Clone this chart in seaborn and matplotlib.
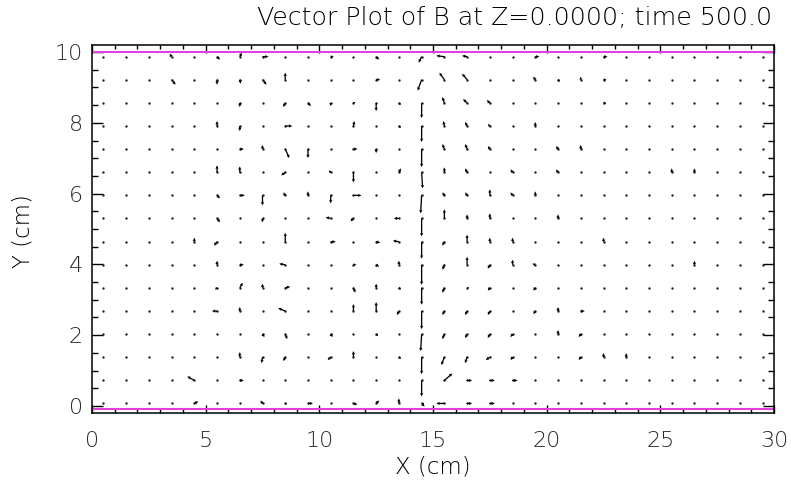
import numpy as np
import pandas as pd
import matplotlib
matplotlib.use("Agg")
import matplotlib.pyplot as plt
import seaborn as sns
from matplotlib.ticker import MultipleLocator

# ---------------- data ----------------
title = "Vector Plot of B at Z=0.0000; time 500.0"
x_label = "X (cm)"
y_label = "Y (cm)"
x_ticks = [0, 5, 10, 15, 20, 25, 30]
y_ticks = [0, 2, 4, 6, 8, 10]

# grid of sample points (cm)
grid_x = [0.5, 1.5, 2.5, 3.5, 4.5, 5.5, 6.5, 7.5, 8.5, 9.5,
          10.5, 11.5, 12.5, 13.5, 14.5, 15.5, 16.5, 17.5, 18.5, 19.5,
          20.5, 21.5, 22.5, 23.5, 24.5, 25.5, 26.5, 27.5, 28.5, 29.5]
grid_y = [9.87, 9.22, 8.56, 7.91, 7.26, 6.60, 5.95, 5.30,
          4.64, 3.99, 3.34, 2.68, 2.03, 1.38, 0.72, 0.07]   # top row first

# non-zero B vectors, one inner list per grid row (top to bottom):
# column index, Bx, By (arbitrary units)
vec_col = [
    [3, 5, 6, 7, 10, 12, 14, 15, 16, 19, 22],
    [3, 5, 6, 7, 8, 12, 14, 15, 16, 19, 20, 21, 22],
    [6, 8, 9, 10, 11, 12, 13, 14, 15, 16, 17, 22],
    [5, 6, 8, 11, 13, 14, 15, 16, 17, 19],
    [6, 7, 8, 9, 11, 12, 14, 15, 16, 17, 20, 21],
    [5, 6, 8, 10, 11, 13, 14, 15, 16, 18, 20, 25, 26],
    [5, 6, 7, 8, 9, 10, 11, 14, 15, 16, 17, 18, 19],
    [5, 7, 10, 11, 13, 14, 15, 16, 17, 20],
    [4, 5, 8, 10, 12, 13, 14, 15, 16, 17, 18, 22],
    [5, 6, 8, 11, 12, 13, 14, 15, 16, 17, 18, 19, 26],
    [5, 6, 7, 8, 11, 12, 13, 14, 15, 16, 17, 19],
    [5, 6, 8, 11, 12, 13, 14, 15, 16, 17, 19, 20, 21],
    [7, 8, 10, 12, 14, 15, 16, 17, 18, 20, 21],
    [6, 7, 8, 10, 11, 13, 14, 15, 16, 17, 18, 21, 22, 23],
    [4, 6, 14, 15, 16, 17, 18],
    [4, 7, 8, 9, 11, 12, 13, 14, 15, 16, 17],
]
vec_bx = [
    [-2, 3, 2, 6, 3, 3, -3, -8, -5, 4, 4],
    [4, 0, 1, 4, 0, 4, -4, -5, -5, -2, 2, 0, 3],
    [0, -2, 3, 0, 2, 0, 2, 0, -2, -4, -3, 3],
    [0, 0, 7, 1, 2, 0, -1, -2, -2, 0],
    [4, 0, 4, 0, 4, 0, 0, -2, -2, -2, -2, 0],
    [0, 0, -4, -2, 0, 2, 1, 0, -2, -2, -2, 0, 0],
    [3, 5, 0, -2, 0, 0, 8, -1, -2, -2, 0, -2, 0],
    [3, 0, -5, -3, -5, 0, 0, 0, 0, 0],
    [0, -3, 0, 5, 4, -6, 0, -2, 0, 0, 0, 0],
    [0, 4, -6, 3, 3, 0, 0, -2, 0, -2, 0, -3, 0],
    [-2, 3, 0, 5, 2, 0, 2, 0, -2, 2, -2, -2],
    [-5, 0, -7, 0, 0, -2, 0, -2, -2, -2, -2, 0, 4],
    [2, 2, 2, 2, -1, -2, -2, -2, -2, 0, -2],
    [0, -1, -2, -3, 0, 2, 0, -3, -2, -4, -2, -2, 0, 0],
    [-7, 4, 0, 8, 5, 5, 5],
    [4, -2, 2, 5, 4, 3, 0, 3, -8, 5, 5],
]
vec_by = [
    [3, -3, 4, 0, 0, -3, -6, 1, 1, 0, 0],
    [-5, -5, -4, -5, 7, 0, -11, 7, 6, 3, -2, 3, 0],
    [-4, -4, -3, -3, 1, -8, -2, -15, 6, 4, 3, 0],
    [5, -5, 0, 5, -2, -16, 5, 4, 2, 4],
    [0, 4, -9, -9, 0, -4, -18, 5, 5, 3, 3, 4],
    [7, 6, -3, 2, -10, 4, -16, 5, 4, 3, 3, 4, 4],
    [-3, 0, -10, 3, 4, -8, 0, -18, 3, 3, 6, 3, 4],
    [-4, -4, 1, -3, 0, -18, 9, 4, 5, 4],
    [4, -4, 9, 0, -1, 1, -17, -4, 7, 4, 4, 4],
    [4, 0, 1, 0, -2, 4, -20, -5, 8, -4, 5, 1, 4],
    [-2, 5, 4, 1, -5, 4, -2, -17, -5, 0, -3, -3],
    [0, 4, 3, 7, 9, -4, -18, -4, -4, -4, -3, 4, 0],
    [-3, -5, -3, -2, -17, -5, -4, -4, -3, 4, -3],
    [5, -6, -4, -3, 6, -2, -17, -8, -6, -3, -3, -3, 4, 4],
    [4, 0, -16, 7, 0, 0, 0],
    [2, 3, -1, 0, -1, 3, 5, -3, 0, 0, 0],
]
boundary_y = [10.0, -0.09]   # domain boundary lines

# ---------------- build tables ----------------
gx, gy = np.meshgrid(grid_x, grid_y)
dots = pd.DataFrame({"x": gx.ravel(), "y": gy.ravel()})

recs = []
for j, (cols, bxs, bys) in enumerate(zip(vec_col, vec_bx, vec_by)):
    for c, u, v in zip(cols, bxs, bys):
        recs.append((grid_x[c], grid_y[j], u, v))
vec = pd.DataFrame(recs, columns=["x", "y", "bx", "by"])

# ---------------- figure ----------------
sns.set_style("white")
plt.rcParams["font.family"] = ["DejaVu Sans"]
plt.rcParams["font.weight"] = "light"

W, H = 791, 480
fig = plt.figure(figsize=(W / 100, H / 100), dpi=100)
ax = fig.add_axes([92 / W, 1 - 413 / H, (774 - 92) / W, (413 - 45) / H])

for yb in boundary_y:
    ax.axhline(yb, color="#e23ee2", lw=1.5, zorder=1)

sns.scatterplot(data=dots, x="x", y="y", ax=ax, s=3, color="#222222",
                linewidth=0, marker="o", legend=False, zorder=3)

ax.quiver(vec["x"], vec["y"], vec["bx"], vec["by"],
          angles="uv", units="dots", scale_units="dots", scale=1.0,
          width=1.3, headwidth=2.6, headlength=2.6, headaxislength=2.3,
          pivot="tail", color="black", zorder=4)

ax.set_xlim(0, 30)
ax.set_ylim(-0.2, 10.2)
ax.set_xticks(x_ticks)
ax.set_yticks(y_ticks)
ax.xaxis.set_minor_locator(MultipleLocator(1))
ax.yaxis.set_minor_locator(MultipleLocator(0.5))
ax.set_xlabel("")
ax.set_ylabel("")

for s in ax.spines.values():
    s.set_color("black")
    s.set_linewidth(1.1)

ax.tick_params(which="both", direction="in", top=True, right=True,
               bottom=True, left=True, color="black", width=1.0)
ax.tick_params(axis="x", which="major", length=6, pad=13, labelsize=16)
ax.tick_params(axis="x", which="minor", length=3)
ax.tick_params(axis="y", which="major", length=8, pad=6.5, labelsize=16)
ax.tick_params(axis="y", which="minor", length=4.5)

fig.text(515 / W, 1 - 18 / H, title, ha="center", va="center",
         fontsize=18.2, color="black")
fig.text(433 / W, 1 - 467 / H, x_label, ha="center", va="center",
         fontsize=16.5, color="black")
fig.text(23 / W, 1 - 231 / H, y_label, ha="center", va="center",
         rotation=90, fontsize=16.5, color="black")

fig.savefig("out.png", dpi=100)
